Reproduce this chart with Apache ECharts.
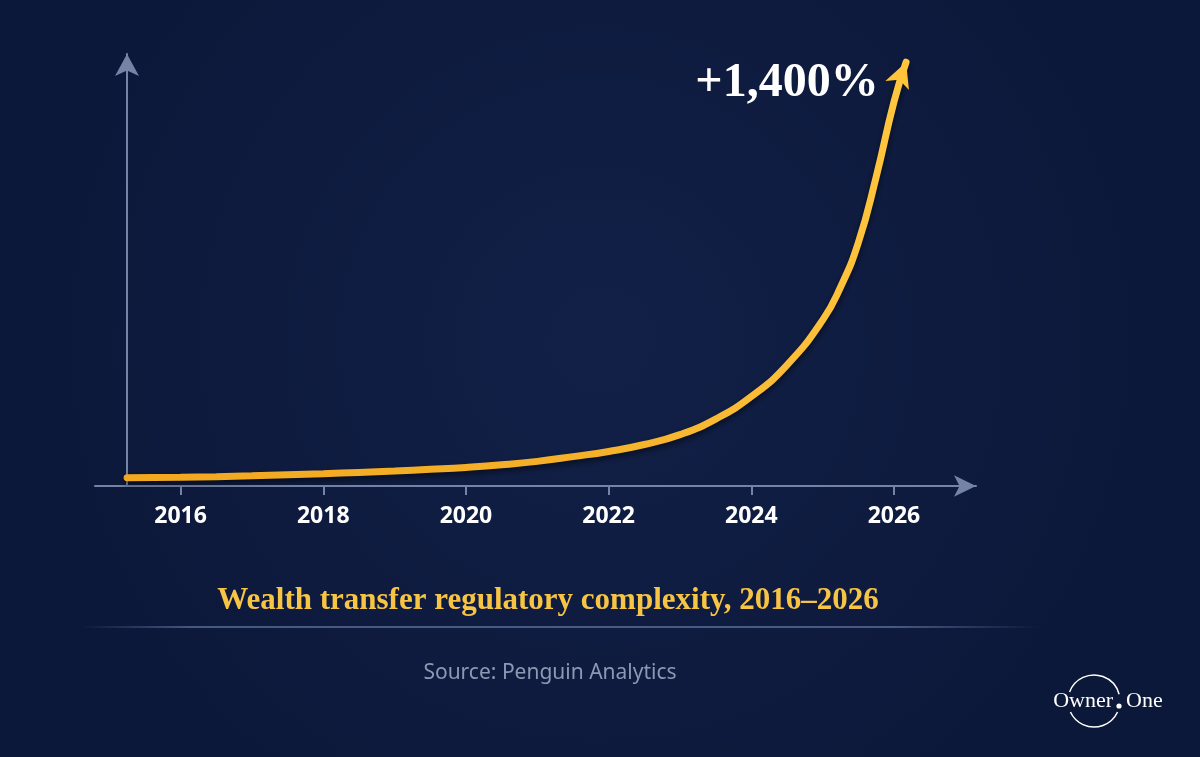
<!DOCTYPE html>
<html>
<head>
<meta charset="utf-8">
<script src="https://cdn.jsdelivr.net/npm/echarts@6/dist/echarts.min.js"></script>
<style>
html,body{margin:0;padding:0;width:1200px;height:757px;overflow:hidden;background:#0f1c42;}
#chart{width:1200px;height:757px;}
</style>
</head>
<body>
<div id="chart"></div>
<script>
// ---- data ----
const years = [2015.25, 2016, 2016.5, 2017, 2017.5, 2018, 2018.5, 2019, 2019.5, 2020, 2020.5, 2021, 2021.5, 2022, 2022.5, 2023, 2023.5, 2024, 2024.5, 2025, 2025.25, 2025.5, 2025.75, 2026, 2026.17];
const complexity = [1.9, 2.0, 2.15, 2.35, 2.6, 2.85, 3.15, 3.45, 3.85, 4.3, 4.9, 5.7, 6.8, 8.0, 9.6, 11.9, 15.5, 20.7, 28.0, 38.4, 46.0, 56.3, 71.5, 88.9, 98.1];
const tickYears = [2016, 2018, 2020, 2022, 2024, 2026];
const annotation = '+1,400%';
const titleText = 'Wealth transfer regulatory complexity, 2016\u20132026';
const sourceText = 'Source: Penguin Analytics';

const axisColor = '#7583a6';
const chart = echarts.init(document.getElementById('chart'), null, {renderer: 'canvas'});

const seriesData = years.map((y, i) => {
  const p = {value: [y, complexity[i]]};
  if (i === years.length - 1) {
    p.symbol = 'arrow';
    p.symbolSize = [19, 25];
    p.symbolRotate = -21;
    p.itemStyle = {color: '#ffc43a'};
  }
  return p;
});

const option = {
  backgroundColor: {
    type: 'radial', x: 0.5, y: 0.45, r: 0.75,
    colorStops: [{offset: 0, color: '#122048'}, {offset: 1, color: '#0c1839'}]
  },
  animation: false,
  grid: {left: 95, right: 224, top: 54, bottom: 271, containLabel: false},
  xAxis: {
    type: 'value', min: 2014.8, max: 2027.15,
    splitLine: {show: false},
    axisLine: {show: true, onZero: false, symbol: ['none', 'arrow'], symbolSize: [16, 22],
      lineStyle: {color: axisColor, width: 2}},
    axisTick: {show: true, length: 9, lineStyle: {color: axisColor, width: 2}, customValues: tickYears},
    axisLabel: {show: true, customValues: tickYears, margin: 19, color: '#ffffff',
      fontFamily: 'Open Sans', fontWeight: 700, fontSize: 23, formatter: v => String(v)}
  },
  yAxis: {
    type: 'value', min: 0, max: 100, offset: -32,
    splitLine: {show: false},
    axisLine: {show: true, onZero: false, symbol: ['none', 'arrow'], symbolSize: [18, 22],
      lineStyle: {color: axisColor, width: 2}},
    axisTick: {show: false},
    axisLabel: {show: false}
  },
  series: [{
    type: 'line',
    data: seriesData,
    smooth: 0.5,
    clip: false,
    symbol: 'none',
    showSymbol: true,
    lineStyle: {
      width: 7,
      cap: 'round',
      color: {type: 'linear', x: 0, y: 0, x2: 1, y2: 0,
        colorStops: [{offset: 0, color: '#f2a81f'}, {offset: 0.6, color: '#f5b12a'}, {offset: 1, color: '#ffc640'}]},
      shadowColor: 'rgba(0,0,0,0.55)', shadowBlur: 6, shadowOffsetY: 3
    },
    itemStyle: {color: '#ffc43a'},
    z: 5
  }],
  graphic: [
    {type: 'text', style: {text: annotation, x: 787, y: 84, align: 'center', verticalAlign: 'middle',
      fill: '#ffffff', font: 'bold 48px "Liberation Serif", "DejaVu Serif", serif'}},
    {type: 'text', style: {text: titleText, x: 548, y: 601, align: 'center', verticalAlign: 'middle',
      fill: '#f7c443', font: 'bold 31px "Liberation Serif", "DejaVu Serif", serif'}},
    {type: 'rect', shape: {x: 80, y: 626, width: 960, height: 2},
      style: {fill: {type: 'linear', x: 0, y: 0, x2: 1, y2: 0,
        colorStops: [{offset: 0, color: 'rgba(120,140,185,0)'}, {offset: 0.12, color: 'rgba(120,140,185,0.55)'},
                     {offset: 0.85, color: 'rgba(120,140,185,0.55)'}, {offset: 1, color: 'rgba(120,140,185,0)'}]}}},
    {type: 'text', style: {text: sourceText, x: 550, y: 673, align: 'center', verticalAlign: 'middle',
      fill: '#8e98b3', font: '21px "Noto Sans", "Open Sans", sans-serif'}},
    // logo
    {type: 'arc', shape: {cx: 1094, cy: 701, r: 26, startAngle: 200 * Math.PI / 180, endAngle: 345 * Math.PI / 180, clockwise: true},
      style: {stroke: '#ffffff', lineWidth: 1.5, fill: null}},
    {type: 'arc', shape: {cx: 1094, cy: 701, r: 26, startAngle: 25 * Math.PI / 180, endAngle: 155 * Math.PI / 180, clockwise: true},
      style: {stroke: '#ffffff', lineWidth: 1.5, fill: null}},
    {type: 'text', style: {text: 'Owner', x: 1113, y: 701, align: 'right', verticalAlign: 'middle',
      fill: '#ffffff', font: '22px "Liberation Serif", serif'}},
    {type: 'circle', shape: {cx: 1119, cy: 706, r: 2.6}, style: {fill: '#ffffff'}},
    {type: 'text', style: {text: 'One', x: 1126, y: 701, align: 'left', verticalAlign: 'middle',
      fill: '#ffffff', font: '22px "Liberation Serif", serif'}}
  ]
};
chart.setOption(option);
</script>
</body>
</html>
